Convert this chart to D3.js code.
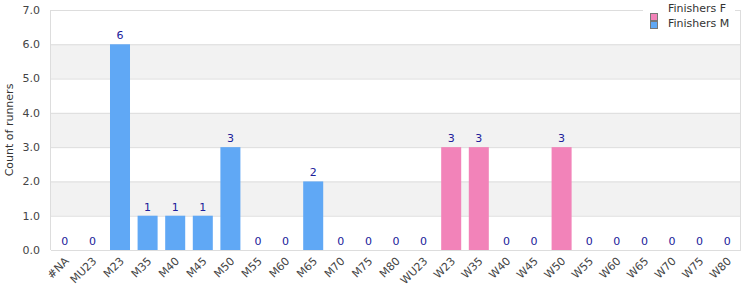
<!DOCTYPE html>
<html>
<head>
<meta charset="utf-8">
<script src="https://cdn.jsdelivr.net/npm/d3@7"></script>
<style>
  body { margin: 0; background: #fff; }
  svg { font-family: "DejaVu Sans", Verdana, sans-serif; }
</style>
</head>
<body>
<div id="chart"></div>
<script>
// Finishers per age category, one array per series
const categories = ["#NA", "MU23", "M23", "M35", "M40", "M45", "M50", "M55", "M60", "M65", "M70", "M75", "M80",
  "WU23", "W23", "W35", "W40", "W45", "W50", "W55", "W60", "W65", "W70", "W75", "W80"];
const finishersF = [0, 0, 0, 0, 0, 0, 0, 0, 0, 0, 0, 0, 0, 0, 3, 3, 0, 0, 3, 0, 0, 0, 0, 0, 0];
const finishersM = [0, 0, 6, 1, 1, 1, 3, 0, 0, 2, 0, 0, 0, 0, 0, 0, 0, 0, 0, 0, 0, 0, 0, 0, 0];
const yTicks = [0, 1, 2, 3, 4, 5, 6, 7];
const seriesNames = ["Finishers F", "Finishers M"];
const seriesColors = ["#f283b9", "#60a8f5"];

const width = 750, height = 300;
const margin = { top: 10, right: 9, bottom: 50, left: 51 };
const innerWidth = width - margin.left - margin.right;
const innerHeight = height - margin.top - margin.bottom;

const svg = d3.select("#chart").append("svg")
  .attr("width", width)
  .attr("height", height);

const g = svg.append("g").attr("transform", `translate(${margin.left},${margin.top})`);

const x = d3.scaleBand()
  .domain(categories)
  .range([0, innerWidth])
  .paddingInner(0.275)
  .paddingOuter(0.1375);

const y = d3.scaleLinear().domain([0, 7]).range([innerHeight, 0]);

// Alternating bands
yTicks.slice(0, -1).forEach((t) => {
  if (t % 2 === 1) {
    g.append("rect")
      .attr("x", 0)
      .attr("y", y(t + 1))
      .attr("width", innerWidth)
      .attr("height", y(t) - y(t + 1))
      .attr("fill", "#f2f2f2");
  }
});

// Grid lines
yTicks.forEach((t) => {
  g.append("line")
    .attr("x1", 0).attr("x2", innerWidth)
    .attr("y1", y(t) + 0.5).attr("y2", y(t) + 0.5)
    .attr("stroke", "#dddddd")
    .attr("stroke-width", 1);
});

// Side borders
g.append("line")
  .attr("x1", -0.5).attr("x2", -0.5)
  .attr("y1", 0).attr("y2", innerHeight)
  .attr("stroke", "#dddddd");
g.append("line")
  .attr("x1", innerWidth - 0.5).attr("x2", innerWidth - 0.5)
  .attr("y1", 0).attr("y2", innerHeight)
  .attr("stroke", "#dddddd");

// Y tick labels
yTicks.forEach((t) => {
  g.append("text")
    .attr("x", -11)
    .attr("y", y(t))
    .attr("dy", "0.35em")
    .attr("text-anchor", "end")
    .attr("font-size", 11)
    .attr("fill", "#444")
    .text(t.toFixed(1));
});

// Y axis title
svg.append("text")
  .attr("transform", `translate(9,${margin.top + innerHeight / 2}) rotate(-90)`)
  .attr("text-anchor", "middle")
  .attr("dy", "0.35em")
  .attr("font-size", 11)
  .attr("fill", "#333")
  .text("Count of runners");

// Stacked bars
const rows = categories.map((c, i) => ({ cat: c, f: finishersF[i], m: finishersM[i] }));
const stack = d3.stack().keys(["f", "m"])(rows);

stack.forEach((layer, li) => {
  g.selectAll(null)
    .data(layer)
    .join("rect")
    .attr("x", (d) => x(d.data.cat))
    .attr("y", (d) => y(d[1]))
    .attr("width", x.bandwidth())
    .attr("height", (d) => y(d[0]) - y(d[1]))
    .attr("fill", seriesColors[li]);
});

// Value labels
g.selectAll(null)
  .data(rows)
  .join("text")
  .attr("x", (d) => x(d.cat) + x.bandwidth() / 2)
  .attr("y", (d) => y(d.f + d.m) - 5)
  .attr("text-anchor", "middle")
  .attr("font-size", 11)
  .attr("fill", "#20209a")
  .text((d) => d.f + d.m);

// X labels rotated
categories.forEach((c) => {
  const cx = x(c) + x.bandwidth() / 2 + 2;
  const cy = innerHeight + 9;
  g.append("text")
    .attr("x", cx)
    .attr("y", cy)
    .attr("dy", "0.35em")
    .attr("text-anchor", "end")
    .attr("font-size", 11)
    .attr("fill", "#444")
    .attr("transform", `rotate(-45,${cx},${cy})`)
    .text(c);
});

// Legend (white box over the top border)
const legend = svg.append("g").attr("transform", "translate(643,0)");
legend.append("rect")
  .attr("x", 0).attr("y", 0)
  .attr("width", 92).attr("height", 32)
  .attr("fill", "#fff");
const swatchY = [13.5, 21.5];
const textY = [8.5, 23];
seriesNames.forEach((name, i) => {
  legend.append("rect")
    .attr("x", 7.5).attr("y", swatchY[i])
    .attr("width", 7).attr("height", 7)
    .attr("fill", seriesColors[i])
    .attr("stroke", "#777")
    .attr("stroke-width", 1);
  legend.append("text")
    .attr("x", 25)
    .attr("y", textY[i])
    .attr("dy", "0.35em")
    .attr("font-size", 11)
    .attr("fill", "#333")
    .text(name);
});
</script>
</body>
</html>
